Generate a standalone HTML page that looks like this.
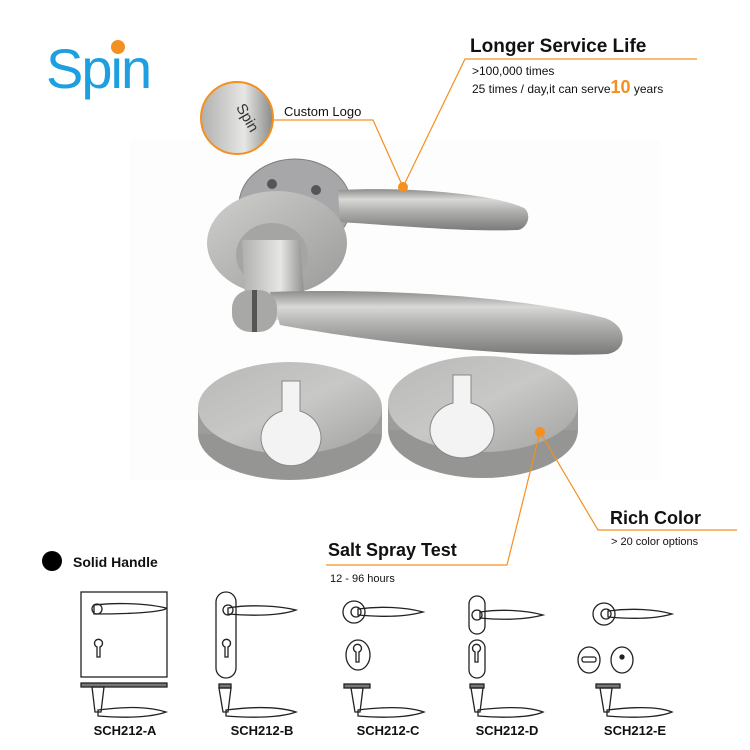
<!DOCTYPE html>
<html><head><meta charset="utf-8"><style>
html,body{margin:0;padding:0;background:#fff;}
svg{display:block}
text{font-family:"Liberation Sans",sans-serif}
</style></head><body>
<svg width="750" height="750" viewBox="0 0 750 750" xmlns="http://www.w3.org/2000/svg">
<defs>
<linearGradient id="lv" x1="0" y1="0" x2="0" y2="1">
<stop offset="0" stop-color="#8d8d8b"/><stop offset="0.25" stop-color="#d8d8d6"/><stop offset="0.5" stop-color="#b4b4b2"/><stop offset="1" stop-color="#7a7a78"/></linearGradient>
<linearGradient id="ro" x1="0" y1="0" x2="1" y2="1">
<stop offset="0" stop-color="#cfcfcd"/><stop offset="1" stop-color="#9a9a98"/></linearGradient>
<linearGradient id="es" x1="0" y1="0" x2="1" y2="1">
<stop offset="0" stop-color="#b8b8b6"/><stop offset="0.5" stop-color="#c8c8c6"/><stop offset="1" stop-color="#a2a2a0"/></linearGradient>
<linearGradient id="cl" x1="0" y1="0" x2="1" y2="0">
<stop offset="0" stop-color="#b0b0ae"/><stop offset="0.6" stop-color="#e6e6e4"/><stop offset="1" stop-color="#8a8a88"/></linearGradient>
</defs>
<rect x="130" y="140" width="530" height="340" fill="#fdfdfd"/>

<text x="46" y="88" font-size="56" fill="#1ea0e0" letter-spacing="-2">Spin</text>
<circle cx="118" cy="47" r="7" fill="#f39021"/>

<circle cx="237" cy="118" r="36" fill="url(#cl)" stroke="#f39021" stroke-width="2"/>
<text x="226" y="112" font-size="15" fill="#333" transform="rotate(60 235 118)">Spin</text>
<text x="284" y="116" font-size="13" fill="#111">Custom Logo</text>
<polyline points="274,120 373,120 403,187" fill="none" stroke="#f39021" stroke-width="1.2"/>

<text x="470" y="52" font-size="19" font-weight="bold" fill="#111">Longer Service Life</text>
<polyline points="697,59 465,59 403,187" fill="none" stroke="#f39021" stroke-width="1.2"/>
<text x="472" y="75" font-size="12" fill="#111">&gt;100,000 times</text>
<text x="472" y="93" font-size="12" fill="#111">25 times / day,it can serve<tspan font-size="18" font-weight="bold" fill="#f39021">10</tspan> years</text>

<ellipse cx="295" cy="205" rx="56" ry="46" fill="#a7a7a9" stroke="#7d7d7d"/>
<circle cx="272" cy="184" r="5" fill="#555"/><circle cx="316" cy="190" r="5" fill="#555"/>
<path d="M338,190 C420,186 500,196 524,208 C532,214 528,228 518,230 C470,232 400,226 340,222 Z" fill="url(#lv)"/>
<ellipse cx="277" cy="243" rx="70" ry="52" fill="url(#ro)"/>
<ellipse cx="272" cy="255" rx="36" ry="32" fill="#a5a5a3"/>
<path d="M242,240 L300,240 L306,320 L246,320 Z" fill="url(#cl)"/>
<path d="M270,292 C380,288 520,296 605,318 C628,326 628,350 608,354 C520,358 390,345 280,325 Z" fill="url(#lv)"/>
<rect x="232" y="290" width="45" height="42" rx="18" fill="#a8a8a6"/>
<rect x="252" y="290" width="5" height="42" fill="#555"/>

<ellipse cx="290" cy="434" rx="92" ry="46" fill="#959593"/>
<rect x="198" y="408" width="184" height="26" fill="#9d9d9b"/>
<ellipse cx="290" cy="408" rx="92" ry="46" fill="url(#es)"/>
<path d="M282,381 h18 v30 a30,28 0 1 1 -18,0 Z" fill="#f3f3f3" stroke="#888"/>
<ellipse cx="483" cy="430" rx="95" ry="48" fill="#959593"/>
<rect x="388" y="404" width="190" height="26" fill="#9d9d9b"/>
<ellipse cx="483" cy="404" rx="95" ry="48" fill="url(#es)"/>
<path d="M453,375 h18 v28 a32,28 0 1 1 -18,0 Z" fill="#f3f3f3" stroke="#888"/>

<circle cx="403" cy="187" r="5" fill="#f39021"/>
<circle cx="540" cy="432" r="5" fill="#f39021"/>

<text x="610" y="524" font-size="18" font-weight="bold" fill="#111">Rich Color</text>
<polyline points="737,530 598,530 540,432" fill="none" stroke="#f39021" stroke-width="1.2"/>
<text x="611" y="545" font-size="11" fill="#111">&gt; 20 color options</text>

<text x="328" y="556" font-size="18" font-weight="bold" fill="#111">Salt Spray Test</text>
<polyline points="326,565 507,565 540,432" fill="none" stroke="#f39021" stroke-width="1.2"/>
<text x="330" y="582" font-size="11" fill="#111">12 - 96 hours</text>

<circle cx="52" cy="561" r="10" fill="#000"/>
<text x="73" y="567" font-size="14" font-weight="bold" fill="#111">Solid Handle</text>

<g fill="none" stroke="#222" stroke-width="1.3">
<rect x="81" y="592" width="86" height="85"/>
<path d="M94,605 C120,602 150,604 166,608 C168,610 150,614 94,614 Z"/><circle cx="97" cy="609" r="5"/>
<path d="M97,647 a4,4 0 1 1 3,0 v10 h-3z"/>
<rect x="81" y="683" width="86" height="4" fill="#777"/>
<path d="M92,687 L104,687 L101,712 L95,712 Z"/><path d="M98,710 C130,706 150,707 166,712 C150,718 120,718 98,716 Z"/>

<rect x="216" y="592" width="20" height="86" rx="10"/>
<path d="M228,608 C250,604 280,606 296,610 C280,616 250,616 228,614 Z"/><circle cx="228" cy="610" r="5"/>
<path d="M225,647 a4,4 0 1 1 3,0 v10 h-3z"/>
<rect x="219" y="684" width="12" height="4" fill="#777"/>
<path d="M219,688 L231,688 L228,712 L223,712 Z"/><path d="M226,710 C258,706 280,707 296,712 C280,718 250,718 226,716 Z"/>

<ellipse cx="354" cy="612" rx="11" ry="11"/><circle cx="356" cy="612" r="5"/>
<path d="M358,609 C380,606 405,607 423,612 C405,617 380,617 358,615 Z"/>
<ellipse cx="358" cy="655" rx="12" ry="15"/><path d="M356,652 a4,4 0 1 1 3,0 v10 h-3z"/>
<rect x="344" y="684" width="26" height="4" fill="#777"/>
<path d="M351,688 L363,688 L360,712 L355,712 Z"/><path d="M358,710 C390,706 410,707 424,712 C408,718 380,718 358,716 Z"/>

<rect x="469" y="596" width="16" height="38" rx="8"/><circle cx="477" cy="615" r="5"/>
<path d="M480,612 C500,609 525,610 543,615 C525,620 500,620 480,618 Z"/>
<rect x="469" y="640" width="16" height="38" rx="8"/><path d="M475,652 a4,4 0 1 1 3,0 v10 h-3z"/>
<rect x="470" y="684" width="14" height="4" fill="#777"/>
<path d="M471,688 L483,688 L480,712 L475,712 Z"/><path d="M478,710 C510,706 530,707 543,712 C530,718 500,718 478,716 Z"/>

<ellipse cx="604" cy="614" rx="11" ry="11"/><circle cx="606" cy="614" r="5"/>
<path d="M608,611 C630,608 655,609 672,614 C655,619 630,619 608,617 Z"/>
<ellipse cx="589" cy="660" rx="11" ry="13"/><rect x="582" y="657" width="14" height="5" rx="2"/>
<ellipse cx="622" cy="660" rx="11" ry="13"/><circle cx="622" cy="657" r="2" fill="#222"/>
<rect x="596" y="684" width="24" height="4" fill="#777"/>
<path d="M600,688 L612,688 L609,712 L604,712 Z"/><path d="M607,710 C640,706 660,707 672,712 C658,718 630,718 607,716 Z"/>
</g>
<g font-size="13" font-weight="bold" fill="#111" text-anchor="middle">
<text x="125" y="735">SCH212-A</text>
<text x="262" y="735">SCH212-B</text>
<text x="388" y="735">SCH212-C</text>
<text x="507" y="735">SCH212-D</text>
<text x="635" y="735">SCH212-E</text>
</g>
</svg>
</body></html>
